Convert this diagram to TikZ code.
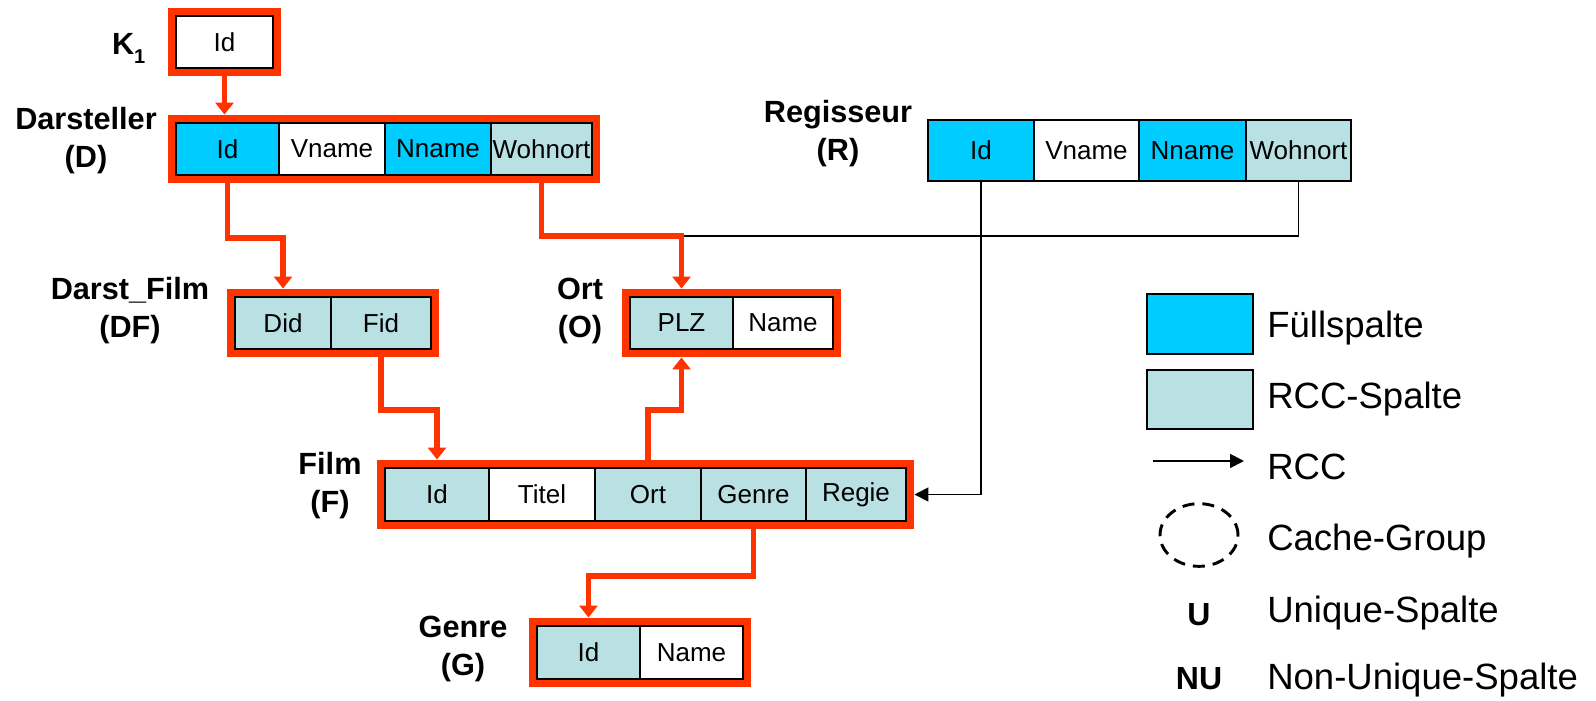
\documentclass[tikz,border=0pt]{standalone}
\usepackage{fontspec}
\setmainfont{Liberation Sans}
\usetikzlibrary{arrows.meta,fit,calc,shapes.geometric}
\definecolor{cgred}{RGB}{255,51,0}
\definecolor{fuell}{RGB}{0,204,255}
\definecolor{rccc}{RGB}{185,224,227}
\tikzset{
 cell/.style={draw=black, line width=1.1pt, inner sep=0pt},
 ct/.style={label={[font=\fontsize{19.5}{23}\selectfont, inner sep=0pt]center:#1}},
 fuellcell/.style={cell, fill=fuell},
 rcccell/.style={cell, fill=rccc},
 plaincell/.style={cell, fill=white},
 rcell/.style={line width=1.4pt},
 frame/.style={draw=cgred, line width=5.6pt, inner sep=3pt},
 tlabel/.style={font=\bfseries\fontsize{23}{28.5}\selectfont, align=center},
 redconn/.style={draw=cgred, line width=4.4pt, -{Triangle[width=13.5pt,length=9pt]}},
 rccconn/.style={draw=black, line width=1.3pt, -{Triangle[width=10.5pt,length=10.5pt]}},
 rccline/.style={draw=black, line width=1.3pt},
 legbox/.style={draw=black, line width=1.5pt, inner sep=0pt},
 legtext/.style={anchor=base west, font=\fontsize{27.4}{33}\selectfont, inner sep=0pt},
 legsym/.style={anchor=base, font=\bfseries\fontsize{24}{28}\selectfont, inner sep=0pt},
}
\begin{document}
\begin{tikzpicture}[x=0.75pt,y=-0.75pt]
\useasboundingbox (0,0) rectangle (1596,700);

% K1
\node[plaincell, fit={(176,16) (273,68)}, ct=Id] (kId) {};
\node[frame, fit=(kId)] (K) {};
% Darsteller
\node[fuellcell, fit={(176,123) (279,175)}, ct=Id] (dId) {};
\node[plaincell, fit={(279,123) (385,175)}, ct=Vname] (dVname) {};
\node[fuellcell, fit={(385,123) (491,175)}, ct=Nname] (dNname) {};
\node[rcccell, fit={(491,123) (592,175)}, ct=Wohnort] (dWohnort) {};
\node[frame, fit=(dId)(dWohnort)] (D) {};
% Darst_Film
\node[rcccell, fit={(235,297) (331,349)}, ct=Did] (dfDid) {};
\node[rcccell, fit={(331,297) (431,349)}, ct=Fid] (dfFid) {};
\node[frame, fit=(dfDid)(dfFid)] (DF) {};
% Ort
\node[rcccell, fit={(630,297) (733,349)}, ct=PLZ] (oPLZ) {};
\node[plaincell, fit={(733,297) (833,349)}, ct=Name] (oName) {};
\node[frame, fit=(oPLZ)(oName)] (O) {};
% Film
\node[rcccell, fit={(385,468) (489,521)}, ct=Id] (fId) {};
\node[plaincell, fit={(489,468) (595,521)}, ct=Titel] (fTitel) {};
\node[rcccell, fit={(595,468) (701,521)}, ct=Ort] (fOrt) {};
\node[rcccell, fit={(701,468) (806,521)}, ct=Genre] (fGenre) {};
\node[rcccell, fit={(806,468) (906,521)}, ct=Regie] (fRegie) {};
\node[frame, fit=(fId)(fRegie)] (F) {};
% Genre
\node[rcccell, fit={(537,626) (640,679)}, ct=Id] (gId) {};
\node[plaincell, fit={(640,626) (743,679)}, ct=Name] (gName) {};
\node[frame, fit=(gId)(gName)] (G) {};
% Regisseur
\node[fuellcell, rcell, fit={(928,120) (1034,181)}, ct=Id] (rId) {};
\node[plaincell, rcell, fit={(1034,120) (1139,181)}, ct=Vname] (rVname) {};
\node[fuellcell, rcell, fit={(1139,120) (1246,181)}, ct=Nname] (rNname) {};
\node[rcccell, rcell, fit={(1246,120) (1351,181)}, ct=Wohnort] (rWohnort) {};

% labels
\node[tlabel, anchor=base east] (kLabel) at (150,54) {K\raisebox{-.3em}{\fontsize{15}{15}\selectfont 1}};
\node[tlabel] (dLabel) at (86,141) {Darsteller\\(D)};
\node[tlabel] (dfLabel) at (130,311) {Darst\_Film\\(DF)};
\node[tlabel] (oLabel) at (580,311) {Ort\\(O)};
\node[tlabel] (fLabel) at (330,486) {Film\\(F)};
\node[tlabel] (gLabel) at (463,649) {Genre\\(G)};
\node[tlabel] (rLabel) at (838,134) {Regisseur\\(R)};

% RCC connectors (black)
\draw[rccline] (rWohnort.south) |- (oPLZ |- 0,236);
\draw[rccconn] (rId.south) |- (F.east);

% red connectors
\draw[redconn] (K.south) -- (K.south |- D.north);
\draw[redconn] (dId |- D.south) -- (dId |- 0,238) -| (dfDid |- DF.north);
\draw[redconn] (dWohnort |- D.south) -- (dWohnort |- 0,236) -| (oPLZ |- O.north);
\draw[redconn] (dfFid |- DF.south) -- (dfFid |- 0,410) -| (fId |- F.north);
\draw[redconn] (fOrt |- F.north) -- (fOrt |- 0,410) -| (oPLZ |- O.south);
\draw[redconn] (fGenre |- F.south) -- (fGenre |- 0,576) -| (gId |- G.north);

% legend
\node[legbox, fill=fuell, fit={(1147,294) (1253,354)}] (legF) {};
\node[legbox, fill=rccc, fit={(1147,370) (1253,429)}] (legR) {};
\coordinate (la1) at (1153,461);
\coordinate (la2) at (1244,461);
\draw[rccconn] (la1) -- (la2);
\node[ellipse, draw=black, line width=2.2pt, dash pattern=on 9pt off 6pt, minimum width=58.5pt, minimum height=47pt, inner sep=0pt] (legCG) at (1199,535) {};
\node[legsym] (legU) at (1199,625) {U};
\node[legsym] (legNU) at (1199,689) {NU};
\node[legtext] (tF) at (1267,337) {Füllspalte};
\node[legtext] (tR) at (1267,408) {RCC-Spalte};
\node[legtext] (tA) at (1267,479) {RCC};
\node[legtext] (tC) at (1267,550) {Cache-Group};
\node[legtext] (tU) at (1267,622) {Unique-Spalte};
\node[legtext] (tNU) at (1267,689) {Non-Unique-Spalte};
\end{tikzpicture}
\end{document}
